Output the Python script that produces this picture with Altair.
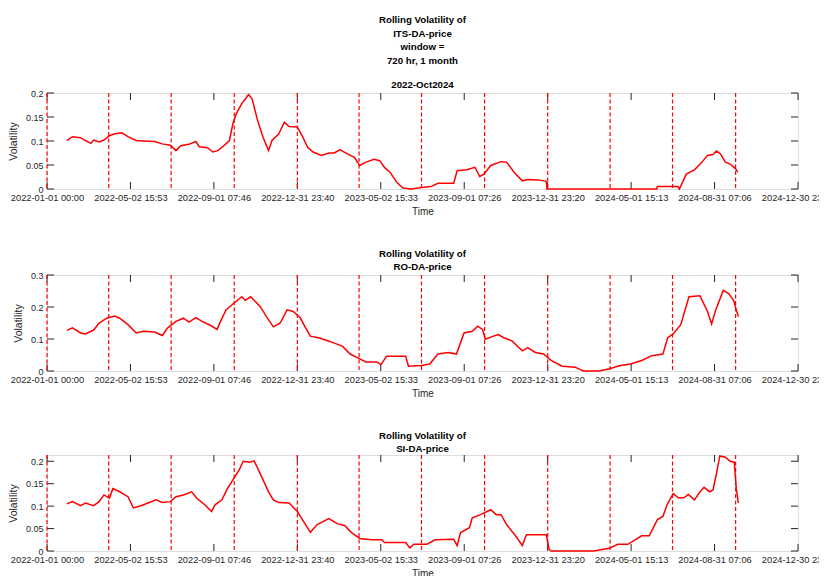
import altair as alt
import pandas as pd

# ---------------- data ----------------
x_start = "2022-01-01 00:00"
x_end = "2024-12-30 23:00"
tick_labels = ["2022-01-01 00:00", "2022-05-02 15:53", "2022-09-01 07:46",
               "2022-12-31 23:40", "2023-05-02 15:33", "2023-09-01 07:26",
               "2023-12-31 23:20", "2024-05-01 15:13", "2024-08-31 07:06",
               "2024-12-30 23:00"]
quarter_lines = ["2022-01-01", "2022-04-01", "2022-07-01", "2022-10-01",
                 "2023-01-01", "2023-04-01", "2023-07-01", "2023-10-01",
                 "2024-01-01", "2024-04-01", "2024-07-01", "2024-10-01"]

# days since 2022-01-01, volatility
its_days = [29, 37, 49, 56, 64, 68, 76, 83, 91, 99, 109, 118, 130, 141, 157, 168, 180, 188,
            195, 207, 217, 222, 234, 242, 249, 257, 266, 271, 276, 284, 294, 299, 307, 315,
            323, 328, 338, 346, 353, 365, 373, 380, 388, 400, 411, 419, 427, 438, 448, 456,
            465, 477, 485, 492, 500, 510, 519, 531, 546, 560, 570, 593, 598, 612, 624, 631,
            637, 647, 662, 670, 681, 693, 701, 716, 728, 729, 800, 889, 890, 920, 922, 932,
            944, 955, 963, 971, 976, 982, 989, 996, 1004, 1007]
its_vals = [0.101, 0.109, 0.107, 0.101, 0.095, 0.102, 0.098, 0.102, 0.111, 0.115, 0.117,
            0.109, 0.101, 0.100, 0.099, 0.094, 0.091, 0.080, 0.090, 0.093, 0.099, 0.088,
            0.086, 0.077, 0.080, 0.089, 0.101, 0.136, 0.157, 0.178, 0.197, 0.188, 0.143,
            0.108, 0.080, 0.101, 0.115, 0.139, 0.130, 0.129, 0.108, 0.087, 0.077, 0.070,
            0.075, 0.075, 0.082, 0.073, 0.066, 0.049, 0.056, 0.062, 0.059, 0.045, 0.035,
            0.014, 0.002, 0.000, 0.003, 0.005, 0.012, 0.012, 0.038, 0.040, 0.045, 0.026,
            0.031, 0.049, 0.057, 0.056, 0.035, 0.017, 0.020, 0.019, 0.016, 0.000, 0.000,
            0.000, 0.005, 0.005, 0.000, 0.031, 0.040, 0.056, 0.070, 0.072, 0.079, 0.073,
            0.056, 0.052, 0.042, 0.035]

ro_days = [29, 37, 49, 56, 68, 76, 87, 99, 106, 118, 130, 141, 157, 168, 176, 188, 199, 207,
           217, 226, 238, 248, 253, 261, 272, 284, 289, 297, 311, 320, 330, 340, 350, 359,
           369, 377, 384, 396, 407, 419, 431, 442, 456, 465, 481, 487, 495, 523, 527, 546,
           558, 570, 585, 597, 608, 620, 628, 635, 639, 651, 658, 666, 678, 693, 701, 712,
           724, 735, 751, 770, 782, 805, 820, 836, 851, 867, 882, 898, 905, 913, 924, 936,
           952, 963, 969, 975, 986, 994, 1001, 1005, 1008]
ro_vals = [0.127, 0.135, 0.119, 0.116, 0.128, 0.150, 0.165, 0.172, 0.165, 0.145, 0.119,
           0.124, 0.122, 0.111, 0.135, 0.155, 0.165, 0.153, 0.167, 0.155, 0.143, 0.130,
           0.155, 0.191, 0.211, 0.232, 0.221, 0.232, 0.201, 0.170, 0.138, 0.150, 0.191,
           0.186, 0.167, 0.135, 0.109, 0.104, 0.096, 0.087, 0.077, 0.053, 0.038, 0.028,
           0.028, 0.020, 0.046, 0.046, 0.015, 0.017, 0.022, 0.053, 0.058, 0.053, 0.119,
           0.124, 0.140, 0.130, 0.099, 0.109, 0.114, 0.104, 0.094, 0.063, 0.073, 0.058,
           0.053, 0.033, 0.015, 0.012, 0.000, 0.000, 0.007, 0.017, 0.022, 0.033, 0.048,
           0.053, 0.104, 0.116, 0.145, 0.232, 0.235, 0.186, 0.147, 0.191, 0.252, 0.242,
           0.221, 0.191, 0.170]

si_days = [29, 37, 49, 56, 68, 76, 83, 91, 96, 106, 118, 126, 137, 149, 159, 168, 180, 188,
           199, 211, 218, 230, 240, 245, 255, 263, 272, 280, 286, 296, 302, 311, 323, 330,
           338, 353, 365, 374, 384, 394, 411, 423, 434, 444, 456, 473, 488, 492, 523, 529,
           535, 554, 566, 593, 598, 603, 616, 620, 632, 647, 655, 662, 670, 685, 693, 699,
           728, 732, 735, 797, 820, 832, 847, 867, 878, 890, 898, 904, 913, 921, 929, 935,
           944, 952, 958, 966, 971, 976, 981, 989, 996, 1002, 1005, 1008]
si_vals = [0.105, 0.110, 0.101, 0.107, 0.101, 0.110, 0.125, 0.118, 0.139, 0.132, 0.121,
           0.096, 0.101, 0.108, 0.114, 0.108, 0.110, 0.121, 0.125, 0.132, 0.118, 0.103,
           0.088, 0.103, 0.114, 0.139, 0.161, 0.180, 0.200, 0.198, 0.201, 0.172, 0.132,
           0.114, 0.108, 0.107, 0.088, 0.066, 0.042, 0.059, 0.072, 0.061, 0.057, 0.041,
           0.028, 0.025, 0.025, 0.019, 0.019, 0.007, 0.015, 0.015, 0.025, 0.026, 0.012,
           0.041, 0.052, 0.074, 0.081, 0.092, 0.081, 0.081, 0.059, 0.030, 0.012, 0.036,
           0.036, 0.004, 0.000, 0.000, 0.006, 0.015, 0.015, 0.034, 0.034, 0.070, 0.077,
           0.103, 0.128, 0.118, 0.119, 0.126, 0.114, 0.132, 0.142, 0.132, 0.136, 0.172,
           0.212, 0.209, 0.200, 0.198, 0.139, 0.107]

its_yticks = [0, 0.05, 0.1, 0.15, 0.2]
ro_yticks = [0, 0.1, 0.2, 0.3]
si_yticks = [0, 0.05, 0.1, 0.15, 0.2]

# ---------------- helpers ----------------
def ms(s):
    return int(pd.Timestamp(s, tz="UTC").value // 10**6)

DAY = 86400000
t0 = ms("2022-01-01")
x_dom = [ms(x_start), ms(x_end)]
tick_ms = [ms(s) for s in tick_labels]
q_df = pd.DataFrame({"t": [ms(s) for s in quarter_lines]})
xt_df = pd.DataFrame({"t": tick_ms})

W, H = 751, 96
FONT = "Liberation Sans, Arial, sans-serif"
AX = "#262626"
TL = 7


def panel(days, vals, ydom, yticks, title):
    df = pd.DataFrame({"t": [t0 + d * DAY for d in days], "v": vals})
    yt_df = pd.DataFrame({"v": yticks})
    X = alt.X("t:T",
              scale=alt.Scale(type="utc", domain=x_dom, nice=False),
              axis=alt.Axis(values=tick_ms,
                            labelExpr="utcFormat(datum.value, '%Y-%m-%d %H:%M')",
                            title="Time", ticks=False, domain=False, grid=False,
                            labelPadding=4, titlePadding=4, labelFlush=False,
                            labelOverlap=False, labelFontSize=9.3, labelFont=FONT,
                            labelColor=AX, titleFont=FONT, titleFontSize=10,
                            titleFontWeight="normal", titleColor=AX))
    Y = alt.Y("v:Q",
              scale=alt.Scale(domain=ydom, nice=False, zero=False),
              axis=alt.Axis(values=yticks, format="~g", title="Volatility",
                            ticks=False, domain=False, grid=False,
                            labelPadding=4, titlePadding=7, labelFontSize=9,
                            labelFont=FONT, labelColor=AX, titleFont=FONT,
                            titleFontSize=10.5, titleFontWeight="normal",
                            titleColor=AX))
    vlines = alt.Chart(q_df).mark_rule(color="#ff0000", strokeDash=[4, 2.5],
                                       strokeWidth=1.2).encode(x=X)
    line = alt.Chart(df).mark_line(color="#ff0000", strokeWidth=1.5).encode(x=X, y=Y)
    xb = alt.Chart(xt_df).mark_rule(color=AX, strokeWidth=1).encode(
        x=X, y=alt.value(H), y2=alt.value(H - TL))
    xtp = alt.Chart(xt_df).mark_rule(color=AX, strokeWidth=1).encode(
        x=X, y=alt.value(0), y2=alt.value(TL))
    yl = alt.Chart(yt_df).mark_rule(color=AX, strokeWidth=1).encode(
        y=Y, x=alt.value(0), x2=alt.value(TL))
    yr = alt.Chart(yt_df).mark_rule(color=AX, strokeWidth=1).encode(
        y=Y, x=alt.value(W), x2=alt.value(W - TL))
    return alt.layer(xb, xtp, yl, yr, vlines, line).properties(
        width=W, height=H, title=title)


TFS = 9.7
t1 = alt.TitleParams(text=["Rolling Volatility of", "ITS-DA-price", "window =",
                           "720 hr, 1 month"],
                     subtitle="2022-Oct2024", fontSize=TFS, subtitleFontSize=TFS,
                     fontWeight="bold", subtitleFontWeight="bold", color="black",
                     subtitleColor="black", font=FONT, subtitleFont=FONT,
                     lineHeight=13.4, subtitleLineHeight=13.4, subtitlePadding=15,
                     anchor="middle", offset=-1)
t2 = alt.TitleParams(text=["Rolling Volatility of", "RO-DA-price"], fontSize=TFS,
                     fontWeight="bold", color="black", font=FONT, lineHeight=13.4,
                     anchor="middle", offset=-1)
t3 = alt.TitleParams(text=["Rolling Volatility of", "SI-DA-price"], fontSize=TFS,
                     fontWeight="bold", color="black", font=FONT, lineHeight=13.4,
                     anchor="middle", offset=-1)

p1 = panel(its_days, its_vals, [0, 0.2], its_yticks, t1)
p2 = panel(ro_days, ro_vals, [0, 0.3], ro_yticks, t2)
p3 = panel(si_days, si_vals, [0, 0.214], si_yticks, t3)

chart = alt.vconcat(p1, p2, p3, spacing=31).properties(
    padding={"left": -1, "top": 6, "right": -17, "bottom": 0}
).configure_view(stroke=AX, strokeWidth=1).configure(background="white")

chart.save("out.html", embed_options={"renderer": "svg", "actions": False})
